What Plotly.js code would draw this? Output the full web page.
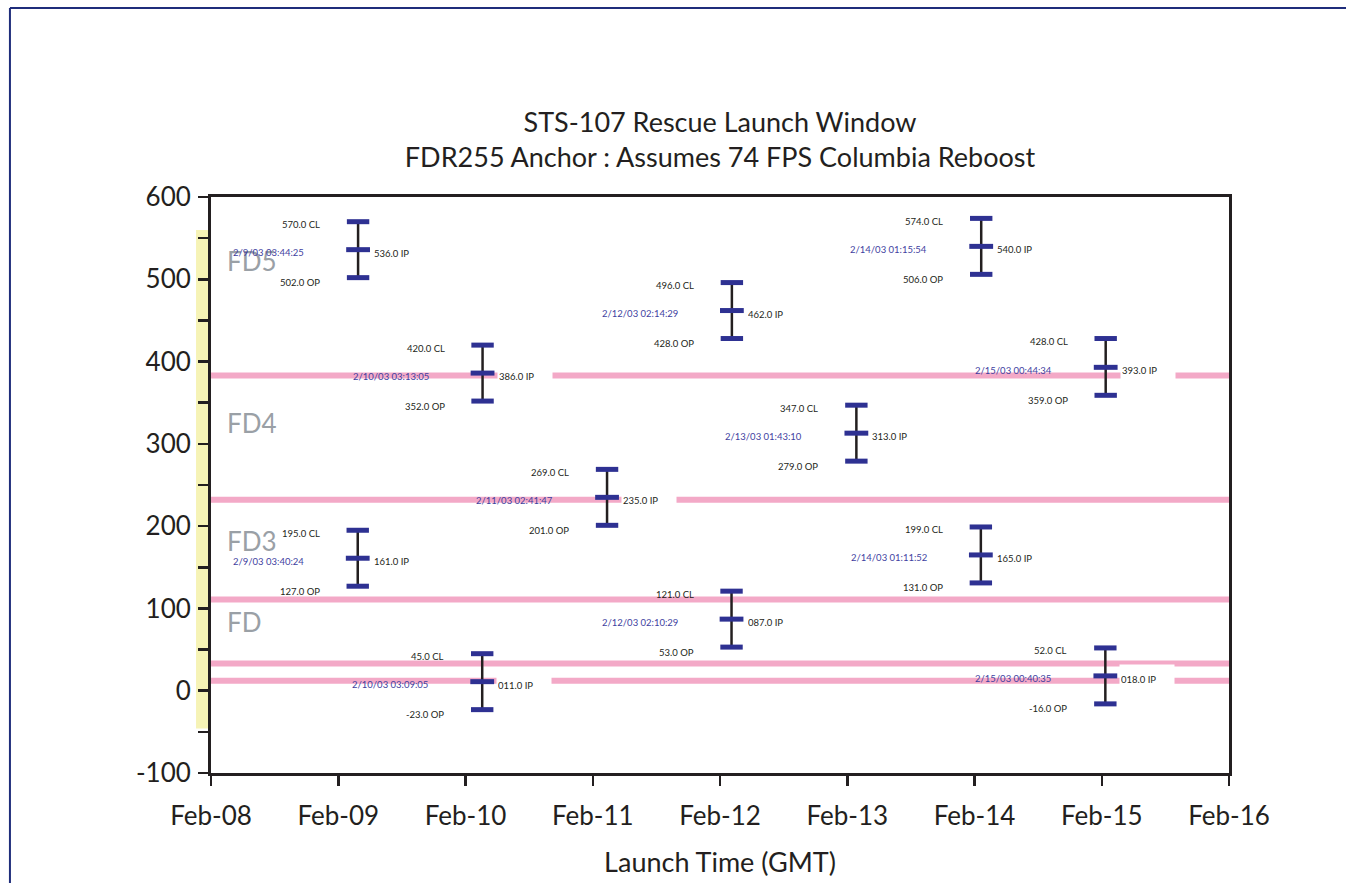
<!DOCTYPE html>
<html>
<head>
<meta charset="utf-8">
<script src="https://cdn.plot.ly/plotly-3.0.1.min.js"></script>
<style>
  html, body { margin: 0; padding: 0; background: #ffffff; }
  #chart { width: 1346px; height: 883px; }
</style>
</head>
<body>
<div id="chart"></div>
<script>
// ---- Data ----
const launchTimes = [
  '2003-02-09 03:44:25', '2003-02-09 03:40:24',
  '2003-02-10 03:13:05', '2003-02-10 03:09:05',
  '2003-02-11 02:41:47',
  '2003-02-12 02:14:29', '2003-02-12 02:10:29',
  '2003-02-13 01:43:10',
  '2003-02-14 01:15:54', '2003-02-14 01:11:52',
  '2003-02-15 00:44:34', '2003-02-15 00:40:35'
];
const dateLabels = [
  '2/9/03 03:44:25', '2/9/03 03:40:24',
  '2/10/03 03:13:05', '2/10/03 03:09:05',
  '2/11/03 02:41:47',
  '2/12/03 02:14:29', '2/12/03 02:10:29',
  '2/13/03 01:43:10',
  '2/14/03 01:15:54', '2/14/03 01:11:52',
  '2/15/03 00:44:34', '2/15/03 00:40:35'
];
const clValues = [570, 195, 420, 45, 269, 496, 121, 347, 574, 199, 428, 52];
const ipValues = [536, 161, 386, 11, 235, 462, 87, 313, 540, 165, 393, 18];
const opValues = [502, 127, 352, -23, 201, 428, 53, 279, 506, 131, 359, -16];

const windowLines = [383, 232, 111, 33, 12];
const fdLabels = ['FD5', 'FD4', 'FD3', 'FD'];
const fdLevels = [522, 325, 182, 83];

const xTickRange = ['2003-02-08', '2003-02-16'];
const yTickVals = [-100, 0, 100, 200, 300, 400, 500, 600];
const yTickText = ['-100', '0', '100', '200', '300', '400', '500', '600'];

// ---- Styles ----
const FONT = 'Lato, "Open Sans", "DejaVu Sans", sans-serif';
const NAVY = '#2e3192';
const INK = '#231f20';
const DATEBLUE = '#3f3f9f';
const PINK = '#f3a9c7';

// stems
const stemX = [], stemY = [];
launchTimes.forEach((t, i) => {
  stemX.push(t, t, null);
  stemY.push(opValues[i], clValues[i], null);
});

const traces = [
  {
    type: 'scatter', mode: 'lines', x: stemX, y: stemY,
    line: {color: INK, width: 2.5}, hoverinfo: 'skip', showlegend: false
  },
  {
    type: 'scatter', mode: 'markers', x: launchTimes, y: clValues,
    marker: {symbol: 'line-ew', size: 16, line: {color: NAVY, width: 5}},
    showlegend: false
  },
  {
    type: 'scatter', mode: 'markers', x: launchTimes, y: opValues,
    marker: {symbol: 'line-ew', size: 16, line: {color: NAVY, width: 5}},
    showlegend: false
  },
  {
    type: 'scatter', mode: 'markers', x: launchTimes, y: ipValues,
    marker: {symbol: 'line-ew', size: 17, line: {color: NAVY, width: 5}},
    showlegend: false
  }
];

const fmt1 = v => v.toFixed(1);
const fmtIP = v => (v < 0 ? '-' : '') + Math.abs(v).toFixed(1).padStart(5, '0');

const annotations = [];
fdLabels.forEach((lab, i) => {
  annotations.push({
    xref: 'paper', yref: 'y', x: 0.014, y: fdLevels[i], text: lab,
    xanchor: 'left', yanchor: 'middle', showarrow: false,
    font: {family: FONT, size: 26, color: '#9aa0a6'}
  });
});
launchTimes.forEach((t, i) => {
  annotations.push({
    x: t, y: clValues[i], text: fmt1(clValues[i]) + ' CL',
    xanchor: 'right', yanchor: 'middle', xshift: -36, yshift: -3,
    showarrow: false, font: {family: FONT, size: 9.5, color: INK}
  });
  annotations.push({
    x: t, y: opValues[i], text: fmt1(opValues[i]) + ' OP',
    xanchor: 'right', yanchor: 'middle', xshift: -36, yshift: -5,
    showarrow: false, font: {family: FONT, size: 9.5, color: INK}
  });
  annotations.push({
    x: t, y: ipValues[i], text: dateLabels[i],
    xanchor: 'right', yanchor: 'middle', xshift: -52, yshift: -3,
    showarrow: false, font: {family: FONT, size: 9.5, color: DATEBLUE}
  });
  annotations.push({
    x: t, y: ipValues[i], text: fmtIP(ipValues[i]) + ' IP',
    xanchor: 'left', yanchor: 'middle', xshift: 14, yshift: -3,
    width: 52, height: 26, align: 'left', bgcolor: '#ffffff', borderpad: 1,
    showarrow: false, font: {family: FONT, size: 9.5, color: INK}
  });
});

const shapes = [];
// page frame (blue top & left rule)
shapes.push({type: 'line', xref: 'paper', yref: 'paper', x0: -0.1975, x1: 1.12, y0: 1.328, y1: 1.328,
  line: {color: '#1f2d7b', width: 2}, layer: 'below'});
shapes.push({type: 'line', xref: 'paper', yref: 'paper', x0: -0.1975, x1: -0.1975, y0: 1.328, y1: -0.2,
  line: {color: '#1f2d7b', width: 2}, layer: 'below'});
// yellow band left of axis
shapes.push({type: 'rect', xref: 'paper', yref: 'y', x0: -0.0147, x1: 0, y0: -46, y1: 560,
  fillcolor: '#f6f3b6', line: {width: 0}, layer: 'below'});
windowLines.forEach(v => {
  shapes.push({type: 'line', xref: 'paper', yref: 'y', x0: 0, x1: 1, y0: v, y1: v,
    line: {color: PINK, width: 6}, layer: 'below'});
});

const layout = {
  width: 1346, height: 883,
  margin: {l: 211, r: 117, t: 197, b: 110},
  paper_bgcolor: '#ffffff', plot_bgcolor: 'rgba(0,0,0,0)',
  showlegend: false,
  font: {family: FONT, color: INK},
  title: {
    text: 'STS-107 Rescue Launch Window<br>FDR255 Anchor : Assumes 74 FPS Columbia Reboost',
    font: {family: FONT, size: 27, color: INK},
    xref: 'paper', x: 0.5, xanchor: 'center',
    yref: 'container', y: 1 - 132 / 883, yanchor: 'middle'
  },
  xaxis: {
    type: 'date', range: xTickRange, dtick: 86400000, tick0: '2003-02-08',
    tickformat: '%b-%d', ticks: 'outside', ticklen: 10, tickwidth: 2.5, tickcolor: INK,
    ticklabelstandoff: 8,
    showline: true, linewidth: 3, linecolor: INK, mirror: true,
    showgrid: false, zeroline: false,
    tickfont: {family: FONT, size: 26, color: INK},
    title: {text: 'Launch Time (GMT)', font: {family: FONT, size: 27, color: INK}, standoff: 23}
  },
  yaxis: {
    range: [-100, 600], tickmode: 'array', tickvals: yTickVals, ticktext: yTickText,
    ticks: 'outside', ticklen: 10, tickwidth: 2.5, tickcolor: INK,
    ticklabelstandoff: 2,
    minor: {dtick: 50, ticks: 'outside', ticklen: 10, tickwidth: 2.5, tickcolor: INK},
    showline: true, linewidth: 3, linecolor: INK, mirror: true,
    showgrid: false, zeroline: false,
    tickfont: {family: FONT, size: 26, color: INK}
  },
  annotations: annotations,
  shapes: shapes
};

Plotly.newPlot('chart', traces, layout, {displayModeBar: false, staticPlot: true});
</script>
</body>
</html>
